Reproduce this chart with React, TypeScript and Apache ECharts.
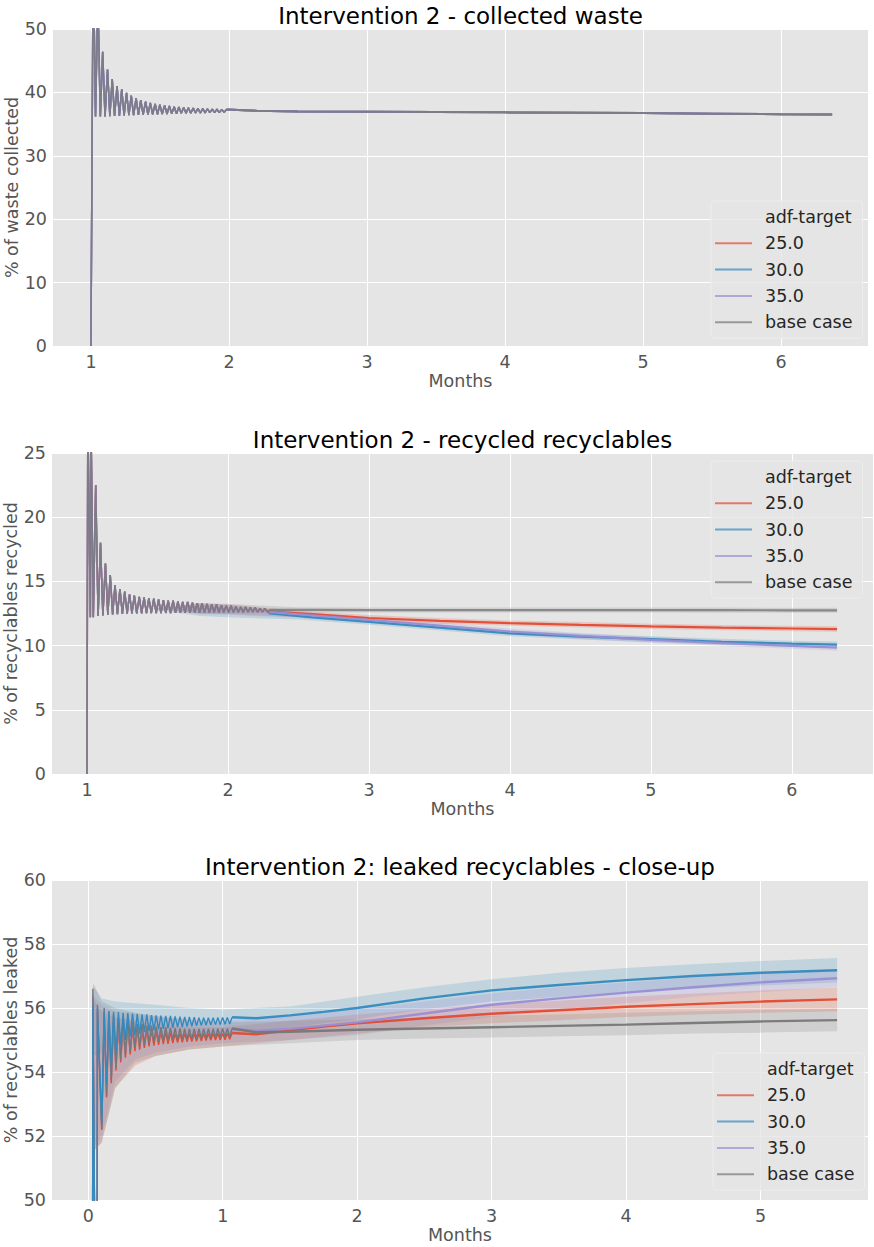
import React, { useEffect, useRef } from "react";
import * as echarts from "echarts";

const FONT = "'DejaVu Sans', 'Liberation Sans', sans-serif";

const HUES = ["25.0", "30.0", "35.0", "base case"];
const HUE_COLORS: Record<string, string> = {
  "25.0": "#E24A33",
  "30.0": "#348ABD",
  "35.0": "#988ED5",
  "base case": "#777777",
};
const BAND_COLORS: Record<string, string> = {
  "25.0": "rgba(226,74,51,0.2)",
  "30.0": "rgba(52,138,189,0.2)",
  "35.0": "rgba(152,142,213,0.2)",
  "base case": "rgba(119,119,119,0.2)",
};

const TITLES = [
  "Intervention 2 - collected waste",
  "Intervention 2 - recycled recyclables",
  "Intervention 2: leaked recyclables - close-up",
];
const Y_NAMES = ["% of waste collected", "% of recyclables recycled", "% of recyclables leaked"];
const X_NAME = "Months";

// ---------- Panel 1: collected waste (the four runs overlap to the pixel) ----------
const collectedEarlyMonths = [
  1.000, 1.016, 1.033, 1.050, 1.068, 1.085, 1.102, 1.120, 1.137, 1.154, 1.171, 1.189, 1.206, 1.223,
  1.240, 1.258, 1.275, 1.292, 1.309, 1.327, 1.344, 1.361, 1.378, 1.396, 1.413, 1.430, 1.447, 1.465,
  1.482, 1.499, 1.516, 1.534, 1.551, 1.568, 1.585, 1.603, 1.620, 1.637, 1.654, 1.672, 1.689, 1.706,
  1.723, 1.741, 1.758, 1.775, 1.792, 1.810, 1.827, 1.844, 1.861, 1.879, 1.896, 1.913, 1.930, 1.948,
  1.965, 1.982,
];
const collectedEarly = [
  0, 62, 36.2, 55, 36.2, 46.4, 36.2, 43.6, 36.25, 42.1, 36.3, 41.0, 36.3, 40.5,
  36.35, 39.95, 36.4, 39.5, 36.4, 39.1, 36.45, 38.8, 36.5, 38.55, 36.5, 38.35, 36.55, 38.2,
  36.55, 38.05, 36.6, 37.95, 36.6, 37.85, 36.65, 37.75, 36.65, 37.7, 36.7, 37.62, 36.7, 37.57,
  36.72, 37.52, 36.75, 37.47, 36.75, 37.43, 36.78, 37.4, 36.8, 37.37, 36.8, 37.35, 36.82, 37.32,
  36.85, 37.3,
];
const collectedTrendMonths = [2.2, 2.5, 3.0, 3.5, 4.0, 4.5, 5.0, 5.5, 6.0, 6.37];
const collectedTrend = [37.1, 37.0, 36.95, 36.9, 36.85, 36.8, 36.75, 36.65, 36.55, 36.5];

// ---------- Panel 2: recycled recyclables ----------
const recycledEarlyMonths = [
  1.000, 1.006, 1.024, 1.029, 1.045,
  1.062, 1.079, 1.096, 1.113, 1.131, 1.148, 1.165, 1.182, 1.199, 1.216, 1.234, 1.251,
  1.268, 1.285, 1.302, 1.319, 1.336, 1.353, 1.371, 1.388, 1.405, 1.422, 1.439, 1.456,
  1.474, 1.491, 1.508, 1.525, 1.542, 1.559, 1.576, 1.593, 1.611, 1.628, 1.645, 1.662,
  1.679, 1.696, 1.714, 1.731, 1.748, 1.765, 1.782, 1.799, 1.816, 1.833, 1.851, 1.868,
  1.885, 1.902, 1.919, 1.936, 1.953, 1.970, 1.988, 2.005, 2.022, 2.039, 2.056, 2.073,
  2.091, 2.108, 2.125, 2.142, 2.159, 2.176, 2.193, 2.210, 2.228, 2.245, 2.262, 2.279,
];
// early oscillation: the four runs overlap
const recycledEarly = [
  0, 28, 12.2, 27, 12.2,
  22.5, 12.3, 18.0, 12.35, 16.4, 12.4, 15.5, 12.42, 14.7, 12.45, 14.4, 12.47,
  14.2, 12.48, 14.0, 12.5, 13.9, 12.5, 13.8, 12.5, 13.75, 12.52, 13.7, 12.52,
  13.65, 12.53, 13.6, 12.53, 13.55, 12.54, 13.5, 12.54, 13.5, 12.55, 13.45, 12.55,
  13.4, 12.55, 13.4, 12.56, 13.35, 12.56, 13.3, 12.57, 13.3, 12.57, 13.25, 12.58,
  13.2, 12.58, 13.2, 12.58, 13.15, 12.59, 13.1, 12.6, 13.1, 12.6, 13.05, 12.6,
  13.0, 12.6, 13.0, 12.62, 12.95, 12.62, 12.95, 12.62, 12.9, 12.63, 12.9, 12.63,
];
const recycledTrendMonths = [2.3, 2.6, 3.0, 3.5, 4.0, 4.5, 5.0, 5.5, 6.0, 6.32];
const recycled25 = [12.65, 12.45, 12.15, 11.93, 11.75, 11.62, 11.5, 11.4, 11.33, 11.29];
const recycled30 = [12.5, 12.2, 11.85, 11.4, 10.95, 10.7, 10.5, 10.3, 10.15, 10.08];
const recycled35 = [12.6, 12.35, 12.0, 11.55, 11.1, 10.75, 10.45, 10.2, 9.98, 9.84];
const recycledBase = [12.78, 12.78, 12.77, 12.77, 12.77, 12.77, 12.77, 12.76, 12.75, 12.75];

const recycledBandMonths = [1.5, 1.8, 2.0, 2.5, 3.0, 3.5, 4.0, 4.5, 5.0, 5.5, 6.0, 6.32];
const recycled25Hi = [12.95, 13.3, 13.2, 12.72, 12.38, 12.15, 11.96, 11.83, 11.71, 11.61, 11.54, 11.5];
const recycled25Lo = [12.85, 12.5, 12.45, 12.2, 11.92, 11.71, 11.54, 11.41, 11.29, 11.19, 11.12, 11.08];
const recycled30Hi = [12.85, 13.1, 13.0, 12.45, 12.05, 11.62, 11.18, 10.93, 10.73, 10.53, 10.38, 10.31];
const recycled30Lo = [12.75, 12.3, 12.2, 12.03, 11.63, 11.18, 10.72, 10.47, 10.27, 10.07, 9.92, 9.85];
const recycled35Hi = [12.95, 13.3, 13.2, 12.62, 12.22, 11.78, 11.33, 10.98, 10.68, 10.43, 10.21, 10.08];
const recycled35Lo = [12.85, 12.45, 12.4, 12.16, 11.77, 11.32, 10.87, 10.52, 10.22, 9.97, 9.75, 9.6];
const recycledBaseHi = [12.95, 13.3, 13.25, 12.98, 12.97, 12.97, 12.97, 12.97, 12.97, 12.96, 12.95, 12.95];
const recycledBaseLo = [12.85, 12.5, 12.5, 12.57, 12.57, 12.57, 12.57, 12.57, 12.57, 12.56, 12.55, 12.55];

// ---------- Panel 3: leaked recyclables (close-up) ----------
const leakedEarlyMonths = [
  0.030, 0.034, 0.064, 0.068, 0.100, 0.118, 0.136, 0.153, 0.171, 0.188, 0.206, 0.224, 0.241,
  0.259, 0.276, 0.294, 0.312, 0.329, 0.347, 0.364, 0.382, 0.400, 0.417, 0.435, 0.452, 0.470,
  0.488, 0.505, 0.523, 0.540, 0.558, 0.576, 0.593, 0.611, 0.629, 0.646, 0.664, 0.682, 0.699,
  0.717, 0.735, 0.752, 0.770, 0.788, 0.805, 0.823, 0.841, 0.858, 0.876, 0.893, 0.911, 0.929,
  0.946, 0.964, 0.981, 0.999, 1.017, 1.034, 1.052, 1.070,
];
const leaked25Early = [
  40, 56.3, 40, 55.9, 52.2, 55.6, 53.2, 55.55, 53.65, 55.5, 54.05, 55.45, 54.3,
  55.4, 54.45, 55.4, 54.55, 55.35, 54.65, 55.35, 54.7, 55.3, 54.75, 55.3, 54.8, 55.3,
  54.82, 55.28, 54.85, 55.25, 54.87, 55.25, 54.88, 55.22, 54.9, 55.2, 54.92, 55.2, 54.93,
  55.2, 54.94, 55.2, 54.95, 55.2, 54.96, 55.2, 54.97, 55.2, 54.98, 55.2, 54.99, 55.2,
  55.0, 55.2, 55.0, 55.2, 55.01, 55.21, 55.02, 55.22,
];
const leaked30Early = [
  40, 56.1, 40, 56.0, 52.4, 55.9, 53.6, 55.9, 54.2, 55.88, 54.6, 55.87, 54.85,
  55.85, 55.0, 55.85, 55.1, 55.83, 55.15, 55.82, 55.2, 55.8, 55.25, 55.8, 55.28, 55.78,
  55.3, 55.77, 55.33, 55.76, 55.35, 55.75, 55.37, 55.75, 55.38, 55.74, 55.4, 55.73, 55.4,
  55.72, 55.42, 55.72, 55.43, 55.71, 55.44, 55.7, 55.45, 55.7, 55.46, 55.7, 55.47, 55.7,
  55.48, 55.7, 55.48, 55.7, 55.49, 55.7, 55.5, 55.71,
];
const leaked35Early = [
  40, 56.4, 40, 55.95, 52.3, 55.7, 53.3, 55.65, 53.8, 55.6, 54.2, 55.55, 54.45,
  55.5, 54.6, 55.5, 54.7, 55.45, 54.8, 55.45, 54.85, 55.42, 54.9, 55.4, 54.95, 55.4,
  54.98, 55.38, 55.0, 55.37, 55.02, 55.36, 55.04, 55.35, 55.05, 55.35, 55.06, 55.34, 55.07,
  55.33, 55.08, 55.33, 55.09, 55.33, 55.1, 55.33, 55.11, 55.33, 55.12, 55.33, 55.13, 55.33,
  55.14, 55.34, 55.15, 55.34, 55.15, 55.35, 55.16, 55.35,
];
const leakedBaseEarly = [
  40, 56.6, 40, 56.1, 52.2, 56.0, 53.25, 55.9, 53.75, 55.8, 54.15, 55.7, 54.4,
  55.65, 54.55, 55.6, 54.65, 55.55, 54.75, 55.5, 54.8, 55.5, 54.85, 55.45, 54.9, 55.45,
  54.93, 55.42, 54.95, 55.4, 54.97, 55.4, 54.99, 55.38, 55.0, 55.37, 55.0, 55.36, 55.0,
  55.35, 55.01, 55.35, 55.02, 55.35, 55.03, 55.35, 55.04, 55.35, 55.05, 55.35, 55.06, 55.35,
  55.07, 55.35, 55.08, 55.36, 55.08, 55.36, 55.09, 55.36,
];
const leakedTrendMonths = [1.25, 1.5, 1.75, 2.0, 2.5, 3.0, 3.5, 4.0, 4.5, 5.0, 5.57];
const leaked25 = [55.18, 55.3, 55.42, 55.52, 55.68, 55.82, 55.93, 56.04, 56.12, 56.2, 56.27];
const leaked30 = [55.68, 55.77, 55.88, 56.0, 56.3, 56.55, 56.72, 56.87, 57.0, 57.1, 57.18];
const leaked35 = [55.28, 55.35, 55.45, 55.55, 55.83, 56.1, 56.3, 56.48, 56.65, 56.8, 56.93];
const leakedBase = [55.24, 55.26, 55.29, 55.32, 55.36, 55.4, 55.44, 55.48, 55.53, 55.58, 55.62];

const leakedBandMonths = [0.035, 0.1, 0.2, 0.35, 0.5, 0.75, 1.0, 1.5, 2.0, 2.5, 3.0, 3.5, 4.0, 4.5, 5.0, 5.57];
const leaked30Hi = [56.7, 56.3, 56.2, 56.15, 56.1, 56.0, 55.95, 56.05, 56.35, 56.65, 56.9, 57.1, 57.25, 57.37, 57.47, 57.56];
const leaked30Lo = [54.5, 54.6, 55.0, 55.15, 55.2, 55.25, 55.2, 55.4, 55.65, 55.95, 56.2, 56.35, 56.5, 56.6, 56.7, 56.8];
const leaked25Hi = [56.3, 55.9, 55.7, 55.6, 55.5, 55.4, 55.4, 55.6, 55.8, 55.95, 56.1, 56.23, 56.35, 56.45, 56.55, 56.63];
const leaked25Lo = [51.5, 51.8, 53.5, 54.2, 54.5, 54.7, 54.8, 55.0, 55.2, 55.4, 55.52, 55.62, 55.72, 55.8, 55.85, 55.9];
const leaked35Hi = [56.4, 56.1, 55.9, 55.8, 55.75, 55.65, 55.6, 55.75, 55.95, 56.2, 56.45, 56.65, 56.8, 56.95, 57.1, 57.22];
const leaked35Lo = [51.6, 52.0, 53.7, 54.4, 54.6, 54.8, 54.9, 55.0, 55.15, 55.45, 55.72, 55.95, 56.15, 56.35, 56.5, 56.65];
const leakedBaseHi = [56.8, 56.2, 56.0, 55.85, 55.75, 55.6, 55.55, 55.6, 55.65, 55.7, 55.75, 55.8, 55.85, 55.9, 55.94, 55.97];
const leakedBaseLo = [51.5, 51.8, 53.5, 54.3, 54.5, 54.7, 54.8, 54.9, 55.0, 55.05, 55.08, 55.12, 55.15, 55.2, 55.23, 55.27];

// ---------- axis settings ----------
const X_RANGES = [
  [0.725, 6.63],
  [0.752, 6.575],
  [-0.27, 5.8],
];
const Y_RANGES = [
  [0, 50, 10],
  [0, 25, 5],
  [50, 60, 2],
];
const GRIDS = [
  { left: 53, top: 29, width: 815, height: 317 },
  { left: 52, top: 453, width: 821, height: 321 },
  { left: 52, top: 880, width: 816, height: 320 },
];
const LEGEND_POS = [
  { left: 711, top: 201 },
  { left: 711, top: 461 },
  { left: 713, top: 1053 },
];

type Run = {
  hue: string;
  earlyX: number[];
  earlyY: number[];
  trendX: number[];
  trendY: number[];
  opacity?: number;
};
type Band = { hue: string; xs: number[]; lo: number[]; hi: number[] };

const PANEL_RUNS: Run[][] = [
  [
    { hue: "25.0", earlyX: collectedEarlyMonths, earlyY: collectedEarly, trendX: collectedTrendMonths, trendY: collectedTrend },
    { hue: "30.0", earlyX: collectedEarlyMonths, earlyY: collectedEarly, trendX: collectedTrendMonths, trendY: collectedTrend },
    { hue: "35.0", earlyX: collectedEarlyMonths, earlyY: collectedEarly, trendX: collectedTrendMonths, trendY: collectedTrend },
    { hue: "base case", earlyX: collectedEarlyMonths, earlyY: collectedEarly, trendX: collectedTrendMonths, trendY: collectedTrend, opacity: 0.8 },
  ],
  [
    { hue: "30.0", earlyX: recycledEarlyMonths, earlyY: recycledEarly, trendX: recycledTrendMonths, trendY: recycled30 },
    { hue: "25.0", earlyX: recycledEarlyMonths, earlyY: recycledEarly, trendX: recycledTrendMonths, trendY: recycled25 },
    { hue: "35.0", earlyX: recycledEarlyMonths, earlyY: recycledEarly, trendX: recycledTrendMonths, trendY: recycled35 },
    { hue: "base case", earlyX: recycledEarlyMonths, earlyY: recycledEarly, trendX: recycledTrendMonths, trendY: recycledBase, opacity: 0.8 },
  ],
  [
    { hue: "25.0", earlyX: leakedEarlyMonths, earlyY: leaked25Early, trendX: leakedTrendMonths, trendY: leaked25 },
    { hue: "35.0", earlyX: leakedEarlyMonths, earlyY: leaked35Early, trendX: leakedTrendMonths, trendY: leaked35 },
    { hue: "base case", earlyX: leakedEarlyMonths, earlyY: leakedBaseEarly, trendX: leakedTrendMonths, trendY: leakedBase },
    { hue: "30.0", earlyX: leakedEarlyMonths, earlyY: leaked30Early, trendX: leakedTrendMonths, trendY: leaked30 },
  ],
];

const PANEL_BANDS: Band[][] = [
  [],
  [
    { hue: "25.0", xs: recycledBandMonths, lo: recycled25Lo, hi: recycled25Hi },
    { hue: "30.0", xs: recycledBandMonths, lo: recycled30Lo, hi: recycled30Hi },
    { hue: "35.0", xs: recycledBandMonths, lo: recycled35Lo, hi: recycled35Hi },
    { hue: "base case", xs: recycledBandMonths, lo: recycledBaseLo, hi: recycledBaseHi },
  ],
  [
    { hue: "25.0", xs: leakedBandMonths, lo: leaked25Lo, hi: leaked25Hi },
    { hue: "30.0", xs: leakedBandMonths, lo: leaked30Lo, hi: leaked30Hi },
    { hue: "35.0", xs: leakedBandMonths, lo: leaked35Lo, hi: leaked35Hi },
    { hue: "base case", xs: leakedBandMonths, lo: leakedBaseLo, hi: leakedBaseHi },
  ],
];

const EARLY_WIDTH = [1.5, 1.5, 1.4];
const TREND_WIDTH = [2.0, 2.2, 2.4];

function buildOption() {
  const series: any[] = [];

  // dummy series that only provides the legend title "adf-target"
  series.push({
    name: "adf-target",
    type: "line",
    xAxisIndex: 0,
    yAxisIndex: 0,
    data: [],
    symbol: "none",
    color: "rgba(0,0,0,0)",
    lineStyle: { color: "rgba(0,0,0,0)" },
  });

  PANEL_BANDS.forEach((bands, p) => {
    bands.forEach((b) => {
      series.push({
        type: "custom",
        name: "band-" + b.hue,
        xAxisIndex: p,
        yAxisIndex: p,
        silent: true,
        clip: true,
        z: 1,
        encode: { x: 0, y: [1, 2] },
        data: b.xs.map((x, i) => [x, b.lo[i], b.hi[i]]),
        renderItem: (params: any, api: any) => {
          if (params.dataIndex !== 0) return null;
          const pts: number[][] = [];
          for (let i = 0; i < b.xs.length; i++) pts.push(api.coord([b.xs[i], b.hi[i]]));
          for (let i = b.xs.length - 1; i >= 0; i--) pts.push(api.coord([b.xs[i], b.lo[i]]));
          return {
            type: "polygon",
            shape: { points: pts },
            style: { fill: BAND_COLORS[b.hue], stroke: null },
          };
        },
      });
    });
  });

  PANEL_RUNS.forEach((runs, p) => {
    runs.forEach((r, k) => {
      const color = HUE_COLORS[r.hue];
      const early = r.earlyX.map((x, i) => [x, r.earlyY[i]]);
      const last = early[early.length - 1];
      const trend = [last].concat(r.trendX.map((x, i) => [x, r.trendY[i]]));
      const common = {
        name: r.hue,
        type: "line",
        xAxisIndex: p,
        yAxisIndex: p,
        symbol: "none",
        showSymbol: false,
        silent: true,
        clip: true,
        color,
        z: 3 + k,
      };
      series.push({
        ...common,
        data: early,
        lineStyle: { color, width: EARLY_WIDTH[p], opacity: r.opacity ?? 1 },
      });
      series.push({
        ...common,
        data: trend,
        lineStyle: { color, width: TREND_WIDTH[p], opacity: r.opacity ?? 0.95 },
      });
    });
  });

  const labelStyle = { color: "#555555", fontSize: 17.5, fontFamily: FONT };

  const xAxis = X_RANGES.map((r, i) => ({
    type: "value",
    gridIndex: i,
    min: r[0],
    max: r[1],
    minInterval: 1,
    maxInterval: 1,
    name: X_NAME,
    nameLocation: "middle",
    nameGap: i === 0 ? 25 : 23,
    nameTextStyle: labelStyle,
    axisLine: { show: false },
    axisTick: { show: false },
    axisLabel: {
      ...labelStyle,
      margin: 7,
      formatter: (v: number) => (Math.abs(v - Math.round(v)) < 1e-6 ? String(Math.round(v)) : ""),
    },
    splitLine: { show: true, showMinLine: false, showMaxLine: false, lineStyle: { color: "#FFFFFF", width: 1 } },
  }));

  const yAxis = Y_RANGES.map((r, i) => ({
    type: "value",
    gridIndex: i,
    min: r[0],
    max: r[1],
    interval: r[2],
    name: Y_NAMES[i],
    nameLocation: "middle",
    nameGap: 32,
    nameMoveOverlap: false,
    nameTextStyle: labelStyle,
    axisLine: { show: false },
    axisTick: { show: false },
    axisLabel: { ...labelStyle, margin: 6 },
    splitLine: { show: true, lineStyle: { color: "#FFFFFF", width: 1 } },
  }));

  const grid = GRIDS.map((g) => ({
    ...g,
    show: true,
    backgroundColor: "#E5E5E5",
    borderWidth: 0,
    containLabel: false,
    outerBoundsMode: "none",
  }));

  const legend = LEGEND_POS.map((pos) => ({
    ...pos,
    orient: "vertical",
    selectedMode: false,
    icon: "rect",
    data: [{ name: "adf-target", icon: "none" }, ...HUES.map((h) => ({ name: h }))],
    itemWidth: 37,
    itemHeight: 2,
    itemGap: 8.3,
    itemStyle: { opacity: 0.7 },
    textStyle: { fontSize: 17.5, color: "#262626", fontFamily: FONT, padding: [0, 0, 0, 8] },
    backgroundColor: "rgba(229,229,229,0.8)",
    borderColor: "#EDEDED",
    borderWidth: 1,
    borderRadius: 4,
    padding: [7, 10, 7, 4],
  }));

  const titleCenters = GRIDS.map((g) => g.left + g.width / 2);
  const graphic = TITLES.map((t, i) => ({
    type: "text",
    x: titleCenters[i],
    y: GRIDS[i].top - 13,
    silent: true,
    style: {
      text: t,
      fontSize: 23,
      fontFamily: FONT,
      fill: "#000000",
      textAlign: "center",
      align: "center",
      textVerticalAlign: "middle",
      verticalAlign: "middle",
    },
  }));

  return {
    animation: false,
    backgroundColor: "#FFFFFF",
    textStyle: { fontFamily: FONT },
    grid,
    xAxis,
    yAxis,
    legend,
    graphic,
    series,
  };
}

export default function App() {
  const ref = useRef<HTMLDivElement>(null);
  useEffect(() => {
    if (!ref.current) return;
    const chart = echarts.init(ref.current, null, { renderer: "svg" });
    chart.setOption(buildOption() as any);
    return () => chart.dispose();
  }, []);
  return (
    <div
      ref={ref}
      style={{ position: "absolute", left: 0, top: 0, width: 874, height: 1247, background: "#fff" }}
    />
  );
}
